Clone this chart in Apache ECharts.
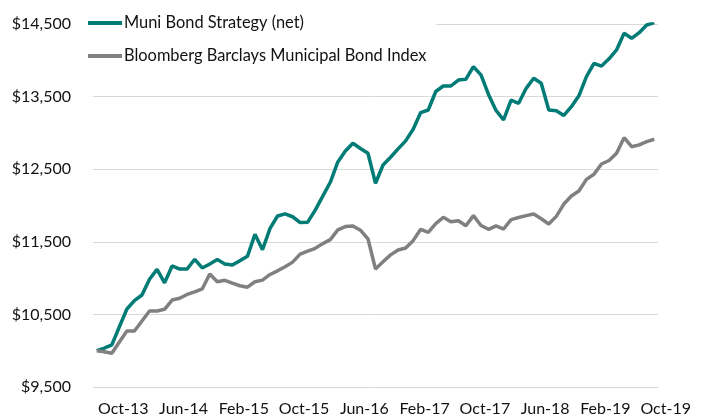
<!DOCTYPE html>
<html>
<head>
<meta charset="utf-8">
<script src="https://cdn.jsdelivr.net/npm/echarts@6/dist/echarts.min.js"></script>
<style>
  html, body { margin: 0; padding: 0; background: #fff; }
  #chart { width: 704px; height: 417px; }
</style>
</head>
<body>
<div id="chart"></div>
<script>
// monthly categories, Oct-13 .. Dec-19
const monthNames = ['Jan', 'Feb', 'Mar', 'Apr', 'May', 'Jun', 'Jul', 'Aug', 'Sep', 'Oct', 'Nov', 'Dec']
const months = []
for (let k = 0; k < 75; k++) {
  const m = (9 + k) % 12
  const y = 13 + Math.floor((9 + k) / 12)
  months.push(monthNames[m] + '-' + y)
}

const seriesNames = ['Muni Bond Strategy (net)', 'Bloomberg Barclays Municipal Bond Index']

const muniStrategy = [
  10000, 10035, 10080, 10330, 10575, 10690, 10767, 10985, 11121, 10935,
  11167, 11125, 11125, 11259, 11140, 11195, 11255, 11195, 11180, 11240,
  11300, 11603, 11390, 11686, 11855, 11885, 11845, 11765, 11770, 11937,
  12130, 12320, 12600, 12750, 12857, 12785, 12720, 12306, 12558, 12665,
  12780, 12890, 13050, 13280, 13315, 13570, 13646, 13646, 13728, 13740,
  13912, 13800, 13530, 13310, 13178, 13450, 13408, 13614, 13752, 13683,
  13315, 13305, 13240, 13361, 13510, 13774, 13958, 13921, 14020, 14142,
  14372, 14303, 14380, 14486, 14518
]

const muniIndex = [
  10000, 9985, 9964, 10120, 10271, 10271, 10410, 10547, 10547, 10570,
  10698, 10722, 10775, 10810, 10850, 11056, 10950, 10970, 10930, 10895,
  10875, 10950, 10972, 11050, 11100, 11157, 11220, 11330, 11370, 11410,
  11475, 11530, 11665, 11710, 11718, 11660, 11540, 11125, 11226, 11320,
  11387, 11415, 11516, 11672, 11631, 11750, 11837, 11777, 11791, 11722,
  11860, 11725, 11672, 11720, 11676, 11805, 11835, 11860, 11883, 11818,
  11745, 11850, 12020, 12130, 12200, 12360, 12430, 12572, 12620, 12720,
  12934, 12810, 12835, 12880, 12912
]

const colors = ['#007b76', '#808080']
const fontFamily = 'Lato, "Liberation Sans", sans-serif'

const chart = echarts.init(document.getElementById('chart'))

const option = {
  animation: false,
  color: colors,
  textStyle: { fontFamily: fontFamily },
  grid: { left: 93, right: 46, top: 24, bottom: 30 },
  legend: {
    orient: 'vertical',
    left: 83,
    top: 11,
    padding: [4, 10, 4, 5],
    backgroundColor: '#fff',
    itemWidth: 34,
    itemHeight: 4,
    itemGap: 17,
    icon: 'rect',
    textStyle: { fontSize: 16.4, color: '#111', padding: [0, 0, 0, -3], lineHeight: 16 },
    data: seriesNames
  },
  xAxis: {
    type: 'category',
    data: months,
    boundaryGap: true,
    axisLine: { show: false },
    axisTick: { show: false },
    axisLabel: {
      interval: 7,
      margin: 14,
      fontSize: 16,
      color: '#111',
      // Excel centres each label over its 8-month group
      padding: [0, 0, 0, 53]
    },
    splitLine: { show: false }
  },
  yAxis: {
    type: 'value',
    min: 9500,
    max: 14500,
    interval: 1000,
    axisLine: { show: false },
    axisTick: { show: false },
    axisLabel: {
      margin: 22,
      fontSize: 16,
      color: '#111',
      formatter: v => '$' + v.toLocaleString('en-US')
    },
    splitLine: { lineStyle: { color: '#d9d9d9', width: 1 } }
  },
  series: [
    {
      name: seriesNames[0],
      type: 'line',
      data: muniStrategy,
      symbol: 'none',
      lineStyle: { width: 3.5, color: colors[0] }
    },
    {
      name: seriesNames[1],
      type: 'line',
      data: muniIndex,
      symbol: 'none',
      lineStyle: { width: 3.5, color: colors[1] }
    }
  ]
}

chart.setOption(option)
</script>
</body>
</html>
